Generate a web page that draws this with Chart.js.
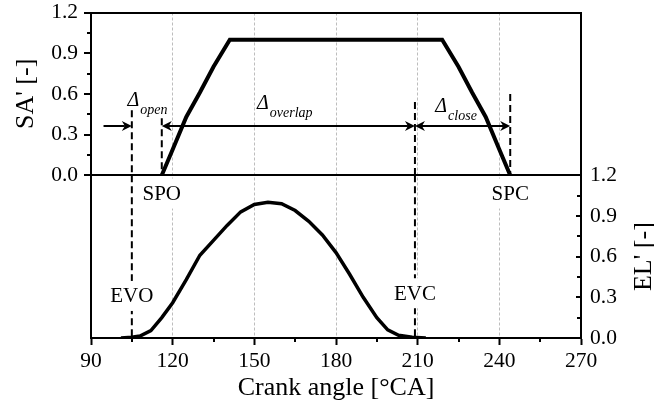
<!doctype html>
<html>

<head>
  <title>Scavenging area and exhaust valve lift</title>
  <script src="https://cdn.jsdelivr.net/npm/chart.js@4.4.1/dist/chart.umd.min.js"></script>
  <style>
    html, body { margin: 0; padding: 0; background: #fff; }
    #wrap { width: 654px; height: 405px; }
  </style>
</head>

<body>
  <div id="wrap"><canvas id="canvas"></canvas></div>

  <script>
    // normalised scavenging port area (upper panel)
    var saAngle = [116, 120, 125, 130, 135, 141, 219, 225, 230, 235, 240, 244];
    var saValue = [0, 0.19, 0.43, 0.61, 0.80, 1.00, 1.00, 0.80, 0.61, 0.43, 0.19, 0];

    // normalised exhaust valve lift (lower panel)
    var elAngle = [101, 105, 108, 112, 116, 120, 125, 130, 135, 140, 145, 150, 155,
                   160, 165, 170, 175, 180, 185, 190, 195, 199, 203, 208, 213];
    var elValue = [0, 0.005, 0.015, 0.055, 0.15, 0.26, 0.43, 0.61, 0.72, 0.83, 0.93, 0.985, 1.0,
                   0.99, 0.94, 0.86, 0.76, 0.63, 0.47, 0.30, 0.15, 0.06, 0.02, 0.005, 0];

    // valve / port events in °CA, and the SA' level where each marker line starts
    var eventNames = ['EVO', 'SPO', 'EVC', 'SPC'];
    var eventAngles = [105, 116, 209, 244];
    var eventTops = [0.48, 0.42, 0.54, 0.60];

    var xTicks = [90, 120, 150, 180, 210, 240, 270];
    var yTicks = [0, 0.3, 0.6, 0.9, 1.2];

    var serif = "'Liberation Serif', 'Times New Roman', serif";
    Chart.defaults.font.family = serif;
    Chart.defaults.color = '#000';

    function points(xs, ys) {
      return xs.map(function (x, i) { return {x: x, y: ys[i]}; });
    }

    var datasets = [
      {label: "SA'", data: points(saAngle, saValue), yAxisID: 'yTop',
       borderColor: '#000', borderWidth: 4, pointRadius: 0, fill: false},
      {label: "EL'", data: points(elAngle, elValue), yAxisID: 'yBot',
       borderColor: '#000', borderWidth: 3.5, pointRadius: 0, fill: false}
    ];

    // dashed event markers; exhaust events run on through the lift panel
    eventNames.forEach(function (name, i) {
      var a = eventAngles[i];
      datasets.push({data: [{x: a, y: eventTops[i]}, {x: a, y: 0}], yAxisID: 'yTop',
        borderColor: '#000', borderWidth: 2, borderDash: [7, 4], pointRadius: 0, fill: false});
      if (name.charAt(0) === 'E') {
        datasets.push({data: [{x: a, y: 1.2}, {x: a, y: 0}], yAxisID: 'yBot',
          borderColor: '#000', borderWidth: 2, borderDash: [7, 4], pointRadius: 0, fill: false});
      }
    });

    var arrowLevel = 0.36;
    var arrows = [
      {from: 94.6, to: eventAngles[0], heads: 'end'},
      {from: eventAngles[1], to: eventAngles[2], heads: 'both'},
      {from: eventAngles[2], to: eventAngles[3], heads: 'both'}
    ];
    var deltaLabels = [
      {sub: 'open', x: 103.4, y: 0.51},
      {sub: 'overlap', x: 151, y: 0.49},
      {sub: 'close', x: 216.5, y: 0.47}
    ];
    // EL' level for each event name
    var eventLabelLevel = {EVO: 0.31, SPO: 1.065, EVC: 0.33, SPC: 1.065};

    function arrowHead(ctx, x, y, dir) {
      ctx.beginPath();
      ctx.moveTo(x, y);
      ctx.lineTo(x - dir * 10, y - 5);
      ctx.lineTo(x - dir * 7, y);
      ctx.lineTo(x - dir * 10, y + 5);
      ctx.closePath();
      ctx.fill();
    }

    var annotate = {
      id: 'annotate',
      afterDatasetsDraw: function (chart) {
        var ctx = chart.ctx, sx = chart.scales.x, st = chart.scales.yTop, sb = chart.scales.yBot;
        ctx.save();
        ctx.fillStyle = '#000';
        ctx.strokeStyle = '#000';
        ctx.lineWidth = 2;

        arrows.forEach(function (ar) {
          var x1 = sx.getPixelForValue(ar.from), x2 = sx.getPixelForValue(ar.to);
          var y = Math.round(st.getPixelForValue(arrowLevel));
          ctx.beginPath();
          ctx.moveTo(ar.heads === 'both' ? x1 + 7 : x1, y);
          ctx.lineTo(x2 - 7, y);
          ctx.stroke();
          arrowHead(ctx, x2, y, 1);
          if (ar.heads === 'both') arrowHead(ctx, x1, y, -1);
        });

        deltaLabels.forEach(function (d) {
          var x = sx.getPixelForValue(d.x), y = st.getPixelForValue(d.y);
          ctx.font = 'italic 20px ' + serif;
          ctx.textAlign = 'left';
          ctx.textBaseline = 'alphabetic';
          ctx.fillText('\u0394', x, y);
          var w = ctx.measureText('\u0394').width;
          ctx.font = 'italic 14px ' + serif;
          ctx.fillText(d.sub, x + w + 1, y + 8);
        });

        ctx.font = '21px ' + serif;
        ctx.textAlign = 'center';
        ctx.textBaseline = 'middle';
        eventNames.forEach(function (name, i) {
          var x = sx.getPixelForValue(eventAngles[i]);
          var y = sb.getPixelForValue(eventLabelLevel[name]);
          var w = ctx.measureText(name).width;
          ctx.fillStyle = '#fff';
          ctx.fillRect(x - w / 2 - 2, y - 15, w + 4, 30);
          ctx.fillStyle = '#000';
          ctx.fillText(name, x, y + 1);
        });
        ctx.restore();
      },
      afterDraw: function (chart) {
        var ctx = chart.ctx, s = chart.scales;
        ctx.save();
        ctx.strokeStyle = '#000';
        ctx.lineWidth = 2;
        ctx.beginPath();
        var v, p;
        // minor ticks, left axis of the area panel
        for (v = 0.15; v < 1.2; v += 0.3) {
          p = Math.round(s.yTop.getPixelForValue(v));
          ctx.moveTo(s.yTop.right - 4, p); ctx.lineTo(s.yTop.right, p);
        }
        // minor ticks, crank angle axis
        for (v = 105; v < 270; v += 30) {
          p = Math.round(s.x.getPixelForValue(v));
          ctx.moveTo(p, s.x.top); ctx.lineTo(p, s.x.top + 4);
        }
        // inward ticks, lift axis
        for (v = 0; v <= 1.2001; v += 0.15) {
          p = Math.round(s.yBot.getPixelForValue(v));
          var major = Math.abs(v / 0.3 - Math.round(v / 0.3)) < 1e-6;
          ctx.moveTo(s.yBot.left - (major ? 5 : 4), p); ctx.lineTo(s.yBot.left, p);
        }
        ctx.stroke();

        ctx.fillStyle = '#000';
        ctx.font = '26px ' + serif;
        ctx.textAlign = 'center';
        ctx.textBaseline = 'middle';
        ctx.translate(644, (s.yBot.top + s.yBot.bottom) / 2);
        ctx.rotate(-Math.PI / 2);
        ctx.fillText("EL' [-]", 0, 0);
        ctx.restore();
      }
    };

    function fmt(v) { return v.toFixed(1); }
    var frame = {display: true, color: '#000', width: 2};
    var tickFont = {size: 21.5};

    // fixed axis sizes; labels are allowed to overhang the plot edges
    function fixSize(w, h) {
      return function (s) {
        if (w !== null) s.width = w;
        if (h !== null) s.height = h;
        s.paddingTop = s.paddingBottom = s.paddingLeft = s.paddingRight = 0;
      };
    }

    var chart = new Chart('canvas', {
      type: 'line',
      data: {datasets: datasets},
      plugins: [annotate],
      options: {
        responsive: true,
        maintainAspectRatio: false,
        animation: false,
        events: [],
        layout: {padding: 0},
        plugins: {legend: {display: false}, tooltip: {enabled: false}},
        elements: {line: {tension: 0, borderJoinStyle: 'miter'}},
        scales: {
          x: {
            type: 'linear', position: 'bottom', min: 90, max: 270,
            afterBuildTicks: function (s) { s.ticks = xTicks.map(function (v) { return {value: v}; }); },
            ticks: {font: tickFont, padding: 3, maxRotation: 0, autoSkip: false},
            grid: {
              color: function (c) {
                var v = c.tick ? c.tick.value : 0;
                return (v > 90 && v < 270) ? '#bdbdbd' : 'rgba(0,0,0,0)';
              },
              lineWidth: 1, tickColor: '#000', tickWidth: 2, tickLength: 7
            },
            border: {display: true, color: '#000', width: 2, dash: [3, 2]},
            title: {display: true, text: 'Crank angle [°CA]', font: {size: 26}, padding: {top: 0, bottom: 1}},
            afterFit: fixSize(null, 67)
          },
          xTop: {
            type: 'linear', position: 'top', min: 90, max: 270,
            ticks: {display: false},
            grid: {drawOnChartArea: false, drawTicks: false},
            border: frame,
            afterFit: fixSize(null, 12.5)
          },
          yBotL: {
            type: 'linear', position: 'left', stack: 'left', min: 0, max: 1.2,
            ticks: {display: false},
            grid: {drawOnChartArea: false, drawTicks: false},
            border: frame,
            afterFit: fixSize(91, null)
          },
          yTop: {
            type: 'linear', position: 'left', stack: 'left', min: 0, max: 1.2,
            afterBuildTicks: function (s) { s.ticks = yTicks.map(function (v) { return {value: v}; }); },
            ticks: {font: tickFont, padding: 6, callback: fmt, autoSkip: false},
            grid: {
              color: function (c) { return (c.tick && c.tick.value === 0) ? '#000' : 'rgba(0,0,0,0)'; },
              lineWidth: 2, tickColor: '#000', tickWidth: 2, tickLength: 7
            },
            border: frame,
            title: {display: true, text: "SA' [-]", font: {size: 26}, padding: {top: 11}},
            afterFit: fixSize(91, null)
          },
          yTopR: {
            type: 'linear', position: 'right', stack: 'right', min: 0, max: 1.2,
            ticks: {display: false},
            grid: {drawOnChartArea: false, drawTicks: false},
            border: frame,
            afterFit: fixSize(73, null)
          },
          yBot: {
            type: 'linear', position: 'right', stack: 'right', min: 0, max: 1.2,
            afterBuildTicks: function (s) { s.ticks = yTicks.map(function (v) { return {value: v}; }); },
            ticks: {font: tickFont, padding: 9, callback: fmt, autoSkip: false},
            grid: {drawOnChartArea: false, drawTicks: false},
            border: frame,
            afterFit: fixSize(73, null)
          }
        }
      }
    });
  </script>
</body>

</html>
